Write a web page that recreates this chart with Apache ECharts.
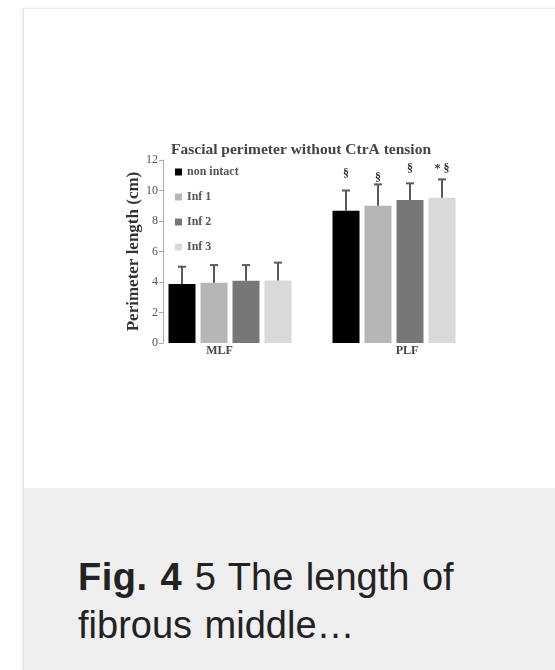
<!DOCTYPE html>
<html><head><meta charset="utf-8">
<script src="https://cdn.jsdelivr.net/npm/echarts@6/dist/echarts.min.js"></script>
<style>
html,body{margin:0;padding:0;background:#fff;width:555px;height:670px;overflow:hidden;}
#card{position:absolute;left:23px;top:8px;width:600px;height:700px;border-left:1px solid #e2e2e2;border-top:1px solid #ececec;box-shadow:-1px 0 3px rgba(0,0,0,0.07);background:#fff;}
#cap{position:absolute;left:24px;top:488px;width:600px;height:200px;background:#efefef;}
#capText{position:absolute;left:78px;top:553px;font-family:'Liberation Sans',Arial,sans-serif;font-size:38px;line-height:48px;color:#222;white-space:nowrap;word-spacing:2px;}
#capText b{letter-spacing:0.5px;}
#chart{position:absolute;left:0;top:0;width:555px;height:488px;}
</style></head>
<body>
<div id="card"></div>
<div id="cap"></div>
<div id="chart"></div>
<div id="capText"><b>Fig. 4</b> 5 The length of<br>fibrous middle…</div>
<script>
const categories = ['MLF', 'PLF'];
const seriesNames = ['non intact', 'Inf 1', 'Inf 2', 'Inf 3'];
const nonIntact = [3.87, 8.68];
const inf1 = [3.95, 9.00];
const inf2 = [4.08, 9.38];
const inf3 = [4.10, 9.53];
const nonIntactErr = [1.13, 1.32];
const inf1Err = [1.16, 1.40];
const inf2Err = [1.03, 1.09];
const inf3Err = [1.17, 1.20];
const plfMarks = ['§', '§', '§', '* §'];
const plfMarkY = [11.08, 10.82, 11.41, 11.41];
const yTicks = [0, 2, 4, 6, 8, 10, 12];

const means = [nonIntact, inf1, inf2, inf3];
const errs = [nonIntactErr, inf1Err, inf2Err, inf3Err];
const colors = ['#000000', '#b6b6b6', '#777777', '#d9d9d9'];
const serif = "'Liberation Serif', 'DejaVu Serif', serif";
const BAR_W = 27, GAP = 5;

const errData = [];
for (let s = 0; s < 4; s++) {
  for (let c = 0; c < categories.length; c++) {
    errData.push([c, means[s][c], errs[s][c], s]);
  }
}

const chart = echarts.init(document.getElementById('chart'));
chart.setOption({
  animation: false,
  backgroundColor: 'transparent',
  title: {
    text: 'Fascial perimeter without CtrA tension',
    left: 166, top: 137,
    textStyle: { fontFamily: serif, fontSize: 15.5, fontWeight: 'bold', color: '#444' }
  },
  legend: {
    orient: 'vertical', left: 170, top: 161,
    icon: 'rect', itemWidth: 7, itemHeight: 7, itemGap: 13,
    data: seriesNames,
    textStyle: { fontFamily: serif, fontSize: 12, fontWeight: 'bold', color: '#555', lineHeight: 12 }
  },
  grid: { left: 148, width: 328, top: 160, height: 183, containLabel: false },
  xAxis: {
    type: 'category', data: categories,
    axisLine: { show: false }, axisTick: { show: false },
    axisLabel: {
      margin: 2,
      formatter: v => v === 'MLF' ? '{a|' + v + '}' : '{b|' + v + '}',
      rich: {
        a: { fontFamily: serif, fontSize: 12, fontWeight: 'bold', color: '#444', padding: [0, 21, 0, 0] },
        b: { fontFamily: serif, fontSize: 12, fontWeight: 'bold', color: '#444', padding: [0, 0, 0, 26] }
      }
    }
  },
  yAxis: {
    type: 'value', min: yTicks[0], max: yTicks[yTicks.length - 1], interval: 2,
    offset: -15,
    name: 'Perimeter length (cm)', nameLocation: 'middle', nameGap: 21, nameMoveOverlap: false,
    nameTextStyle: { fontFamily: serif, fontSize: 17, fontWeight: 'bold', color: '#333' },
    axisLine: { show: true, lineStyle: { color: '#aaa', width: 1 } },
    axisTick: { show: true, length: 4, lineStyle: { color: '#aaa' } },
    axisLabel: { margin: 5, fontFamily: serif, fontSize: 12, color: '#555' },
    splitLine: { show: false }
  },
  series: seriesNames.map((n, i) => ({
    name: n, type: 'bar', data: means[i],
    barWidth: BAR_W, barGap: (GAP / BAR_W * 100).toFixed(1) + '%',
    itemStyle: { color: colors[i] }
  })).concat([{
    type: 'custom', name: 'err', data: errData,
    encode: { x: 0, y: 1 }, z: 5,
    renderItem: function (params, api) {
      const c = api.value(0), v = api.value(1), e = api.value(2), s = api.value(3);
      const off = (s - 1.5) * (BAR_W + GAP);
      const p0 = api.coord([c, v]);
      const p1 = api.coord([c, v + e]);
      const x = p0[0] + off;
      const children = [
        { type: 'line', shape: { x1: x, y1: p0[1], x2: x, y2: p1[1] }, style: { stroke: '#5a5a5a', lineWidth: 2 } },
        { type: 'line', shape: { x1: x - 4, y1: p1[1], x2: x + 4, y2: p1[1] }, style: { stroke: '#5a5a5a', lineWidth: 2 } }
      ];
      if (c === 1) {
        const pm = api.coord([c, plfMarkY[s]]);
        children.push({
          type: 'text', x: x, y: pm[1],
          style: { text: plfMarks[s], fontFamily: serif, fontSize: 12, fontWeight: 'bold', fill: '#333', align: 'center', verticalAlign: 'middle' }
        });
      }
      return { type: 'group', children: children };
    }
  }])
});
</script>
</body></html>
